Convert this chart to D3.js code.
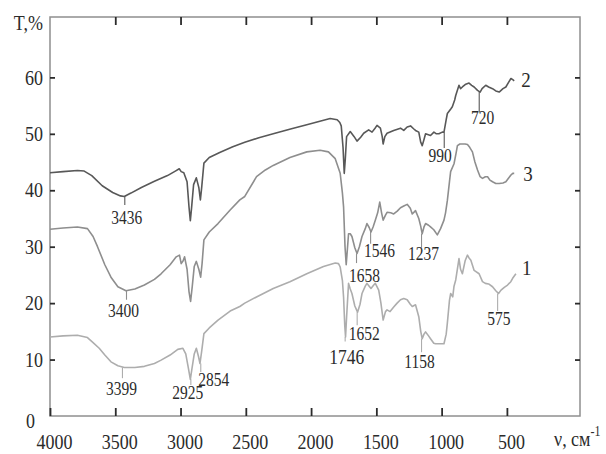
<!DOCTYPE html>
<html>
<head>
<meta charset="utf-8">
<script src="https://cdn.jsdelivr.net/npm/d3@7"></script>
<style>
  body { margin: 0; background: #fff; }
  svg text { font-family: "Liberation Serif", "DejaVu Serif", serif; fill: #2b2b2b; }
</style>
</head>
<body>
<div id="chart"></div>
<script>
// IR spectra, wavenumber (cm-1) vs transmittance (%)
const wave2 = [4000, 3900, 3790, 3738, 3680, 3600, 3520, 3460, 3431, 3380, 3300, 3200, 3100, 3040, 3010, 2995, 2975, 2950, 2935, 2925, 2915, 2900, 2879, 2860, 2848, 2838, 2821, 2780, 2700, 2600, 2508, 2400, 2290, 2150, 2033, 1940, 1854, 1800, 1780, 1769, 1755, 1746, 1738, 1728, 1700, 1670, 1648, 1620, 1597, 1559, 1533, 1510, 1495, 1469, 1455, 1448, 1435, 1418, 1367, 1315, 1290, 1264, 1238, 1215, 1200, 1175, 1160, 1149, 1135, 1123, 1085, 1059, 1040, 1021, 995, 982, 965, 956, 930, 918, 900, 892, 867, 855, 841, 815, 790, 770, 751, 725, 705, 690, 662, 640, 610, 585, 559, 530, 508, 485, 469, 455, 444]
const trans2 = [43.1, 43.3, 43.5, 43.4, 42.6, 40.8, 39.6, 39.0, 38.9, 39.5, 40.5, 41.6, 42.6, 43.4, 43.8, 43.3, 43.1, 41.5, 37.0, 34.6, 37.0, 41.0, 42.2, 40.5, 38.3, 40.5, 44.8, 45.8, 46.7, 47.7, 48.5, 49.3, 50.0, 50.9, 51.6, 52.2, 52.7, 52.5, 52.0, 51.4, 47.5, 43.0, 45.5, 49.5, 50.4, 49.5, 48.7, 49.4, 50.1, 50.7, 50.3, 51.0, 51.5, 51.0, 49.5, 48.2, 49.5, 50.1, 50.6, 51.0, 50.6, 51.2, 51.4, 50.9, 50.6, 50.3, 48.5, 47.9, 49.0, 50.0, 49.7, 50.3, 50.0, 50.0, 50.3, 50.3, 52.5, 53.6, 54.4, 54.8, 56.0, 56.8, 58.6, 58.0, 58.3, 58.8, 59.0, 58.6, 58.3, 57.7, 57.4, 58.0, 58.6, 58.3, 58.0, 57.6, 57.4, 58.0, 58.3, 59.2, 59.8, 59.6, 59.4]

const wave3 = [4000, 3900, 3790, 3713, 3670, 3636, 3580, 3533, 3480, 3418, 3350, 3277, 3200, 3149, 3080, 3033, 3008, 2995, 2980, 2969, 2950, 2935, 2923, 2910, 2895, 2879, 2860, 2846, 2835, 2821, 2780, 2713, 2620, 2546, 2508, 2418, 2350, 2290, 2162, 2033, 1931, 1867, 1815, 1777, 1760, 1751, 1740, 1731, 1722, 1713, 1700, 1687, 1665, 1648, 1630, 1610, 1585, 1572, 1555, 1541, 1525, 1508, 1490, 1474, 1460, 1448, 1430, 1418, 1390, 1367, 1340, 1315, 1290, 1264, 1240, 1225, 1200, 1175, 1160, 1149, 1135, 1123, 1100, 1085, 1060, 1033, 1008, 982, 970, 956, 940, 931, 905, 890, 879, 860, 841, 820, 802, 785, 764, 745, 725, 705, 687, 665, 648, 630, 610, 585, 559, 530, 508, 485, 469, 455, 444]
const trans3 = [33.1, 33.3, 33.5, 33.2, 31.8, 30.0, 26.8, 24.6, 22.9, 22.2, 22.5, 23.2, 24.2, 25.2, 26.8, 28.2, 28.5, 27.0, 27.5, 28.2, 26.0, 22.0, 20.3, 23.0, 26.5, 27.4, 26.0, 24.6, 27.0, 31.2, 32.6, 34.1, 36.5, 38.3, 38.9, 42.4, 43.6, 44.4, 45.8, 46.8, 47.1, 46.8, 45.6, 43.0, 39.5, 37.0, 30.0, 26.8, 29.5, 32.3, 32.3, 31.8, 29.8, 28.8, 30.0, 31.8, 33.2, 34.1, 33.4, 32.6, 33.5, 34.7, 36.0, 37.9, 36.0, 34.7, 35.6, 36.1, 36.0, 35.8, 36.3, 36.9, 37.2, 37.5, 36.8, 35.8, 36.4, 35.0, 33.6, 32.3, 33.5, 34.1, 33.8, 33.5, 33.0, 32.1, 33.2, 34.7, 36.0, 38.2, 41.5, 43.3, 44.7, 46.5, 47.9, 48.2, 48.2, 48.2, 48.1, 47.6, 46.8, 45.0, 43.6, 42.4, 42.1, 42.4, 42.4, 41.8, 41.5, 41.2, 41.2, 41.3, 41.5, 42.2, 42.7, 43.0, 43.0]

const wave1 = [4000, 3900, 3790, 3713, 3670, 3623, 3580, 3533, 3480, 3431, 3350, 3277, 3200, 3149, 3080, 3021, 2982, 2960, 2940, 2925, 2912, 2895, 2879, 2862, 2851, 2838, 2821, 2780, 2713, 2620, 2546, 2508, 2418, 2290, 2162, 2033, 1905, 1815, 1790, 1777, 1760, 1751, 1742, 1736, 1728, 1713, 1700, 1687, 1665, 1644, 1625, 1610, 1585, 1572, 1555, 1541, 1520, 1508, 1482, 1465, 1448, 1430, 1418, 1395, 1367, 1341, 1315, 1290, 1264, 1240, 1225, 1200, 1175, 1160, 1149, 1135, 1123, 1100, 1085, 1060, 1046, 1010, 982, 965, 956, 940, 931, 915, 905, 892, 867, 855, 841, 820, 802, 790, 776, 751, 713, 687, 665, 640, 610, 585, 564, 545, 520, 495, 470, 456, 431]
const trans1 = [14.0, 14.2, 14.3, 13.9, 13.0, 12.0, 10.8, 9.6, 8.9, 8.6, 8.6, 8.8, 9.3, 9.9, 10.8, 11.8, 12.0, 11.0, 8.5, 6.5, 8.5, 11.0, 12.0, 10.5, 9.3, 11.5, 14.6, 15.6, 17.0, 18.6, 19.4, 20.0, 21.1, 22.6, 23.8, 25.2, 26.5, 27.1, 27.0, 26.4, 24.0, 21.0, 16.0, 14.0, 17.5, 23.5, 22.5, 21.7, 19.5, 18.4, 19.8, 21.7, 23.0, 23.5, 23.0, 22.6, 23.2, 23.5, 22.3, 20.0, 17.0, 18.5, 18.8, 18.5, 19.3, 20.0, 20.6, 20.8, 20.6, 19.8, 19.4, 19.7, 17.6, 15.0, 13.7, 14.5, 14.9, 14.2, 13.7, 12.9, 12.8, 12.8, 12.8, 14.5, 16.5, 20.5, 21.7, 21.1, 23.0, 24.1, 27.9, 26.0, 25.2, 27.5, 28.5, 28.0, 27.6, 25.8, 25.2, 23.8, 23.5, 23.4, 22.9, 22.2, 21.7, 22.3, 22.8, 23.2, 23.8, 24.4, 25.2]

// peak marks: label, wavenumber where drawn, curve, T at curve, T at end of mark
const peakLabels = ["3436", "3400", "3399", "2925", "2854", "1746", "1658", "1546", "1652", "1237", "1158", "990", "720", "575"]
const peakWave = [3427, 3414, 3445, 2921, 2845, 1739, 1652, 1544, 1647, 1154, 1154, 980, 712, 571]
const peakCurve = ["2", "3", "1", "1", "1", "1", "3", "3", "1", "3", "1", "2", "2", "1"]
const peakFrom = [38.9, 22.2, 8.6, 6.5, 9.3, 14.0, 28.8, 32.6, 18.4, 32.3, 13.7, 50.3, 57.4, 21.7]
const peakTo = [37.4, 20.6, 6.7, 5.5, 7.8, 13.2, 27.1, 30.5, 16.1, 29.8, 11.3, 47.5, 53.8, 18.6]

const xTicks = [4000, 3500, 3000, 2500, 2000, 1500, 1000, 500]
const yTicks = [0, 10, 20, 30, 40, 50, 60]

const width = 606
const height = 454
const plotL = 50, plotR = 580, plotT = 17, plotB = 416

const colors = { "2": "#585858", "3": "#8e8e8e", "1": "#adadad" }

// label offsets relative to the end of each peak mark
const labelShift = {
  "3436": [2, 19], "3400": [-3, 17], "3399": [-1, 17], "2925": [-3, 14], "2854": [13, 14],
  "1746": [1.5, 22], "1658": [8, 18.5], "1546": [9, 12.7], "1652": [7, 15], "1237": [2, 12],
  "1158": [-2, 16], "990": [-4, 13.7], "720": [3.5, 12], "575": [1.3, 14]
}

const svg = d3.select("#chart").append("svg")
  .attr("width", width)
  .attr("height", height)

const x = d3.scaleLinear().domain([4000, -60]).range([plotL, plotR])
const y = d3.scaleLinear().domain([0, 70.7]).range([plotB, plotT])

function stretchedText(g, px, py, str, size, anchor, sy) {
  return g.append("text")
    .attr("transform", "translate(" + px + "," + py + ") scale(1," + (sy || 1.18) + ")")
    .attr("text-anchor", anchor || "middle")
    .style("font-size", size + "px")
    .text(str)
}

// frame
svg.append("rect")
  .attr("x", plotL).attr("y", plotT)
  .attr("width", plotR - plotL).attr("height", plotB - plotT)
  .attr("fill", "none")
  .attr("stroke", "#8f8f8f")
  .attr("stroke-width", 1.5)

// axes with inward ticks
const axisBottom = svg.append("g")
  .attr("transform", "translate(0," + plotB + ")")
  .call(d3.axisBottom(x).tickValues(xTicks).tickFormat(d3.format("d"))
    .tickSizeInner(-8).tickSizeOuter(0).tickPadding(16))
const axisTop = svg.append("g")
  .attr("transform", "translate(0," + plotT + ")")
  .call(d3.axisTop(x).tickValues(xTicks.slice(1)).tickSizeInner(-8).tickSizeOuter(0).tickFormat(""))
const axisLeft = svg.append("g")
  .attr("transform", "translate(" + plotL + ",0)")
  .call(d3.axisLeft(y).tickValues(yTicks).tickSizeInner(-5).tickSizeOuter(0).tickPadding(7))
const axisRight = svg.append("g")
  .attr("transform", "translate(" + plotR + ",0)")
  .call(d3.axisRight(y).tickValues(yTicks.slice(1)).tickSizeInner(-5).tickSizeOuter(0).tickFormat(""))

;[axisBottom, axisTop, axisLeft, axisRight].forEach(a => {
  a.select(".domain").remove()
  a.selectAll(".tick line").attr("stroke", "#2b2b2b").attr("stroke-width", 1.8)
  a.selectAll("text")
    .style("font-size", "18px")
    .style("font-family", "'Liberation Serif', serif")
    .attr("fill", "#2b2b2b")
})
axisBottom.selectAll(".tick text").attr("dx", 4).attr("transform", "scale(1,1.15)")
axisLeft.selectAll(".tick text").attr("transform", "scale(1,1.15)")
axisLeft.selectAll(".tick").filter(d => d === 0).select("text").attr("dx", -8).attr("dy", "0.55em")
axisLeft.selectAll(".tick").filter(d => d === 0).select("line").remove()

// spectra
const line = d3.line()
  .x(d => x(d[0]))
  .y(d => y(d[1]))

const series = [
  { name: "2", pts: d3.zip(wave2, trans2) },
  { name: "3", pts: d3.zip(wave3, trans3) },
  { name: "1", pts: d3.zip(wave1, trans1) }
]

svg.selectAll(".spectrum")
  .data(series)
  .enter()
  .append("path")
  .attr("class", "spectrum")
  .attr("d", d => line(d.pts))
  .attr("fill", "none")
  .attr("stroke", d => colors[d.name])
  .attr("stroke-width", 1.6)
  .attr("stroke-linejoin", "round")

// peak marks
const peaks = peakLabels.map((lab, i) => ({
  label: lab, wave: peakWave[i], curve: peakCurve[i], from: peakFrom[i], to: peakTo[i]
}))

svg.selectAll(".peak")
  .data(peaks)
  .enter()
  .append("line")
  .attr("class", "peak")
  .attr("x1", d => x(d.wave)).attr("x2", d => x(d.wave))
  .attr("y1", d => y(d.from)).attr("y2", d => y(d.to))
  .attr("stroke", d => colors[d.curve])
  .attr("stroke-width", 1.1)

peaks.forEach(d => {
  const s = labelShift[d.label]
  stretchedText(svg, x(d.wave) + s[0], y(d.to) + s[1], d.label, d.label === "1746" ? 17.5 : 15.5, "middle", 1.2)
})

// curve numbers at the right end
const curveShift = { "2": [7, 6], "3": [9, 8], "1": [6, 1] }
series.forEach(s => {
  const last = s.pts[s.pts.length - 1]
  const sh = curveShift[s.name]
  stretchedText(svg, x(last[0]) + sh[0], y(last[1]) + sh[1], s.name, 19, "start", 1.15)
})

// axis titles
stretchedText(svg, 43, 30, "T,%", 18, "end", 1.15)
const xt = stretchedText(svg, 554, 446, "ν, см", 18, "start", 1.15)
xt.append("tspan").attr("dy", -9).style("font-size", "12px").text("-1")
</script>
</body>
</html>
